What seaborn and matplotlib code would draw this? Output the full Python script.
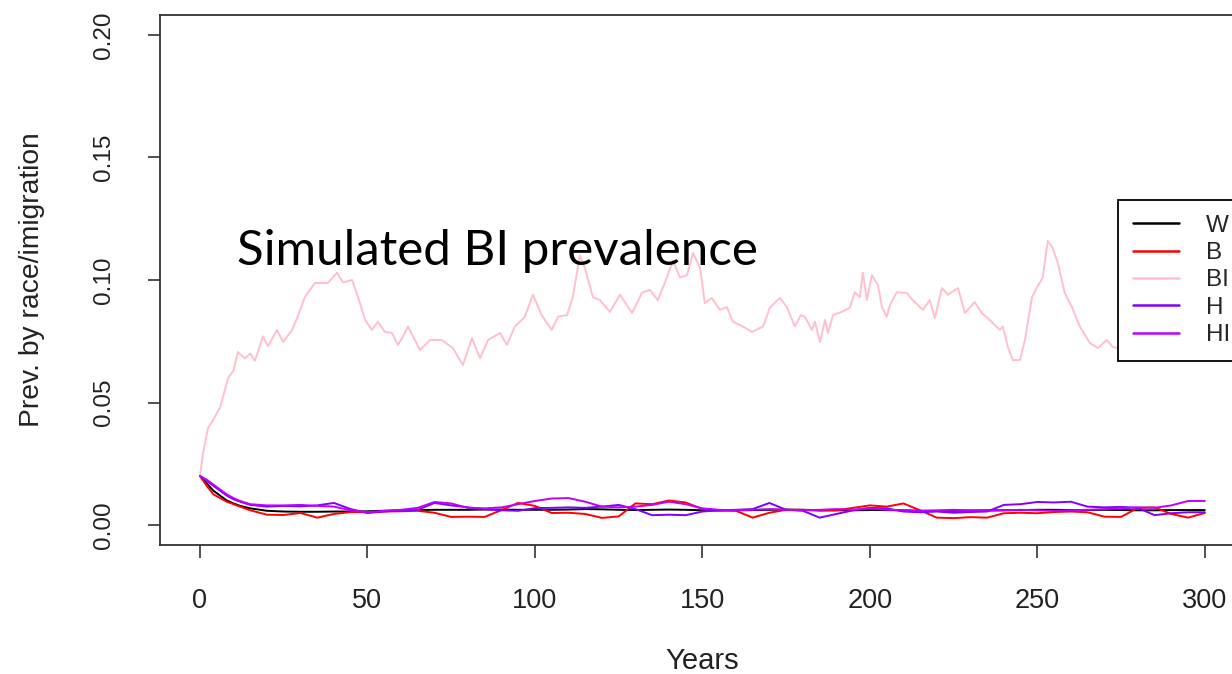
import numpy as np
import pandas as pd
import matplotlib
matplotlib.use("Agg")
import matplotlib.pyplot as plt
import seaborn as sns

# ---------------- data ----------------
years_low = [0, 2, 4, 6, 8, 10, 12, 15, 20, 25, 30, 35, 40, 45, 50, 55, 60, 65, 70, 75,
             80, 85, 90, 95, 100, 105, 110, 115, 120, 125, 130, 135, 140, 145, 150, 155,
             160, 165, 170, 175, 180, 185, 190, 195, 200, 205, 210, 215, 220, 225, 230,
             235, 240, 245, 250, 255, 260, 265, 270, 275, 280, 285, 290, 295, 300]

W = [0.020, 0.017, 0.014, 0.012, 0.010, 0.0088, 0.0078, 0.0068, 0.0058, 0.0055, 0.0054,
     0.0054, 0.0055, 0.0055, 0.0056, 0.0058, 0.0060, 0.0061, 0.0062, 0.0062, 0.0062,
     0.0063, 0.0063, 0.0062, 0.0062, 0.0062, 0.0063, 0.0065, 0.0064, 0.0062, 0.0061,
     0.0062, 0.0063, 0.0062, 0.0060, 0.0059, 0.0060, 0.0061, 0.0062, 0.0063, 0.0062,
     0.0061, 0.0060, 0.0060, 0.0061, 0.0061, 0.0060, 0.0058, 0.0057, 0.0058, 0.0059,
     0.0060, 0.0060, 0.0061, 0.0062, 0.0062, 0.0061, 0.0061, 0.0062, 0.0061, 0.0060,
     0.0060, 0.0061, 0.0061, 0.0061]

B = [0.020, 0.016, 0.0125, 0.011, 0.0095, 0.0085, 0.0075, 0.0060, 0.0042, 0.0041, 0.0049,
     0.0030, 0.0045, 0.0053, 0.0052, 0.0055, 0.0056, 0.0058, 0.0050, 0.0033, 0.0034,
     0.0033, 0.0061, 0.0090, 0.0078, 0.0049, 0.0050, 0.0045, 0.0029, 0.0035, 0.0088,
     0.0085, 0.0100, 0.0092, 0.0065, 0.0060, 0.0058, 0.0030, 0.0050, 0.0062, 0.0062,
     0.0058, 0.0060, 0.0070, 0.0080, 0.0075, 0.0088, 0.0060, 0.0030, 0.0028, 0.0032,
     0.0030, 0.0048, 0.0050, 0.0048, 0.0053, 0.0055, 0.0052, 0.0034, 0.0033, 0.0070,
     0.0072, 0.0045, 0.0030, 0.0049]

H = [0.020, 0.018, 0.016, 0.014, 0.012, 0.0105, 0.0095, 0.0082, 0.0075, 0.0078, 0.0076,
     0.0080, 0.0090, 0.0065, 0.0049, 0.0055, 0.0060, 0.0062, 0.0090, 0.0080, 0.0072,
     0.0065, 0.0060, 0.0058, 0.0069, 0.0070, 0.0072, 0.0070, 0.0075, 0.0082, 0.0065,
     0.0040, 0.0042, 0.0040, 0.0055, 0.0060, 0.0062, 0.0065, 0.0090, 0.0062, 0.0058,
     0.0030, 0.0045, 0.0060, 0.0070, 0.0068, 0.0055, 0.0052, 0.0055, 0.0050, 0.0053,
     0.0055, 0.0082, 0.0085, 0.0094, 0.0092, 0.0095, 0.0075, 0.0072, 0.0074, 0.0070,
     0.0040, 0.0048, 0.0052, 0.0052]

HI = [0.020, 0.0185, 0.0165, 0.0145, 0.0125, 0.011, 0.0098, 0.0085, 0.0080, 0.0080, 0.0082,
      0.0078, 0.0075, 0.0060, 0.0052, 0.0058, 0.0062, 0.0070, 0.0094, 0.0088, 0.0070,
      0.0068, 0.0072, 0.0085, 0.0098, 0.0108, 0.0110, 0.0095, 0.0075, 0.0072, 0.0075,
      0.0082, 0.0095, 0.0085, 0.0068, 0.0062, 0.0060, 0.0062, 0.0065, 0.0062, 0.0060,
      0.0062, 0.0065, 0.0062, 0.0068, 0.0062, 0.0060, 0.0058, 0.0060, 0.0062, 0.0060,
      0.0058, 0.0060, 0.0062, 0.0060, 0.0058, 0.0060, 0.0062, 0.0065, 0.0068, 0.0072,
      0.0070, 0.0080, 0.0098, 0.0098]

years_bi = [0, 1, 2.4, 4, 6, 8.4, 10, 11.3, 13.4, 15, 16.4, 18.8, 20.3, 23, 24.8, 27.5, 29,
            31.3, 34.3, 36.4, 38.2, 40.9, 42.7, 45.4, 47.2, 49.3, 51.3, 53.1, 55.2, 57.3,
            59.1, 60.5, 62.1, 65.7, 68.7, 72.2, 75.5, 78.5, 81.2, 83.6, 86, 89.6, 91.6, 94,
            97, 99.4, 102, 105, 106.9, 109.6, 111.3, 113.4, 114.9, 117.3, 119.4, 122.4,
            125.4, 129, 131.9, 134.3, 136.7, 139.4, 141.2, 143.3, 145.4, 147.2, 149.3,
            150.7, 152.8, 155.2, 157.3, 159.1, 162.1, 164.8, 168.1, 170.1, 173.1, 175.2,
            177.6, 179.4, 180.6, 182.7, 183.6, 185.1, 186.6, 187.5, 189, 191.6, 194, 195.5,
            197, 197.9, 199.1, 200.6, 202.4, 203.6, 205, 206, 208, 211, 212.8, 215.8, 217.9,
            219.4, 221.5, 223.3, 226.3, 228.4, 231.3, 233.4, 235.8, 238.8, 239.7, 241.2,
            242.7, 244.8, 246.3, 248.4, 249.9, 251.6, 253.1, 254.6, 256.1, 258.2, 260.3,
            262.7, 265.7, 268.1, 270.7, 272.5, 274, 277, 280, 285, 290, 295, 300]

BI = [0.020, 0.030, 0.0396, 0.043, 0.048, 0.060, 0.063, 0.0706, 0.068, 0.070, 0.067, 0.077,
      0.073, 0.0796, 0.0747, 0.0796, 0.0845, 0.093, 0.0988, 0.0988, 0.0988, 0.103, 0.099,
      0.100, 0.093, 0.0837, 0.0796, 0.083, 0.0788, 0.0784, 0.0735, 0.0767, 0.081, 0.0714,
      0.0755, 0.0755, 0.0722, 0.0653, 0.0763, 0.068, 0.0755, 0.0784, 0.0735, 0.081, 0.085,
      0.094, 0.0857, 0.0796, 0.085, 0.0857, 0.093, 0.110, 0.105, 0.093, 0.0918, 0.087,
      0.094, 0.0865, 0.0947, 0.096, 0.0918, 0.101, 0.108, 0.101, 0.102, 0.111, 0.105,
      0.0906, 0.0927, 0.0878, 0.089, 0.083, 0.081, 0.0788, 0.081, 0.0886, 0.0927, 0.089,
      0.081, 0.0857, 0.085, 0.0796, 0.083, 0.0747, 0.0837, 0.0784, 0.0857, 0.087, 0.0886,
      0.095, 0.093, 0.103, 0.0918, 0.102, 0.098, 0.089, 0.085, 0.0898, 0.095, 0.0947,
      0.0918, 0.0878, 0.0918, 0.0845, 0.0967, 0.094, 0.0967, 0.0865, 0.091, 0.0865,
      0.0837, 0.0796, 0.081, 0.0727, 0.0673, 0.0673, 0.0755, 0.093, 0.097, 0.101, 0.116,
      0.113, 0.107, 0.0947, 0.089, 0.081, 0.0743, 0.0722, 0.0755, 0.0727, 0.0722, 0.074,
      0.072, 0.075, 0.073, 0.076, 0.074]

groups = ["W", "B", "BI", "H", "HI"]
colors = ["#000000", "#FF0000", "#FFC0CB", "#7F00FF", "#BF00FF"]

x_ticks = [0, 50, 100, 150, 200, 250, 300]
y_ticks = [0.00, 0.05, 0.10, 0.15, 0.20]
y_tick_labels = ["0.00", "0.05", "0.10", "0.15", "0.20"]

# ---------------- build long table ----------------
frames = []
for g, vals in zip(["W", "B", "H", "HI"], [W, B, H, HI]):
    frames.append(pd.DataFrame({"Years": years_low, "prev": vals, "group": g}))
frames.append(pd.DataFrame({"Years": years_bi, "prev": BI, "group": "BI"}))
df = pd.concat(frames, ignore_index=True)

# ---------------- style ----------------
sns.set_theme(style="ticks")
plt.rcParams["font.family"] = ["Liberation Sans", "DejaVu Sans"]

fig = plt.figure(figsize=(12.32, 6.74), dpi=100)
ax = fig.add_axes([159.8 / 1232, 1 - 544.6 / 674, (1245 - 159.8) / 1232, (544.6 - 15.4) / 674])

sns.lineplot(data=df, x="Years", y="prev", hue="group", hue_order=groups,
             palette=dict(zip(groups, colors)), estimator=None, sort=True,
             linewidth=1.4, ax=ax, legend=True)

ax.set_xlim(-12, 312)
ax.set_ylim(-0.008, 0.208)
ax.set_xticks(x_ticks)
ax.set_xticklabels([str(t) for t in x_ticks], fontsize=19.5, color="#222222")
ax.set_yticks(y_ticks)
ax.set_yticklabels(y_tick_labels, fontsize=17.5, rotation=90, va="center", color="#222222")
ax.tick_params(axis="both", direction="out", length=9, width=1.2, colors="#333333",
               labelcolor="#222222")
ax.tick_params(axis="x", pad=22)
ax.tick_params(axis="y", pad=23)
for s in ax.spines.values():
    s.set_color("#333333")
    s.set_linewidth(1.3)

ax.set_xlabel("Years", fontsize=21, color="#222222", labelpad=24)
ax.set_ylabel("Prev. by race/imigration", fontsize=20.3, color="#222222", labelpad=35)

ax.text(11, 0.1061, "Simulated BI prevalence", fontsize=35.5, family="Lato",
        ha="left", va="baseline", color="black")

handles, labels = ax.get_legend_handles_labels()
leg = ax.legend(handles, labels, loc="upper left", bbox_to_anchor=(0.883, 0.651),
                frameon=True, fancybox=False, edgecolor="black", facecolor="white",
                framealpha=1, fontsize=17.5, handlelength=1.9, handletextpad=1.1,
                labelspacing=0.22, borderpad=0.6, borderaxespad=0)
leg.get_frame().set_linewidth(1.3)
for line in leg.get_lines():
    line.set_linewidth(1.8)

fig.savefig("out.png", dpi=100)
